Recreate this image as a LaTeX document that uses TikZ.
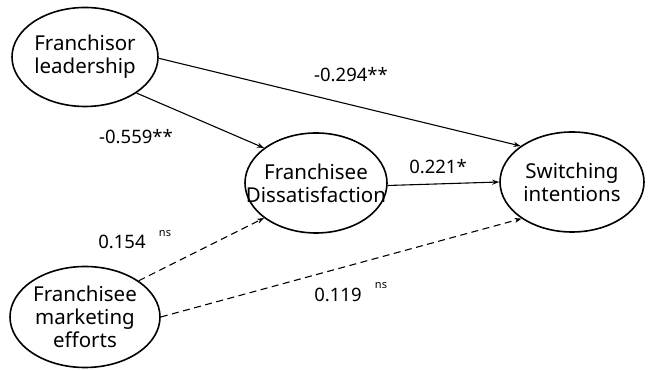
\documentclass[tikz,border=0pt]{standalone}
\usepackage{fontspec}
\setmainfont{Noto Sans}
\usetikzlibrary{shapes.geometric,arrows.meta}
\begin{document}
\begin{tikzpicture}[x=1pt,y=1pt,
  latent/.style={ellipse,draw,line width=1.6pt,inner xsep=-30pt,inner ysep=-20pt,align=center,
    font=\fontsize{20.5}{23}\selectfont},
  path/.style={line width=1.1pt,-{Stealth[length=7pt,width=5pt]}},
  nspath/.style={path,dash pattern=on 7pt off 4.5pt},
  coef/.style={font=\fontsize{18.5}{22}\selectfont,inner sep=0pt},
  sup/.style={font=\fontsize{11}{13}\selectfont,inner sep=0pt}]
\useasboundingbox (0,0) rectangle (650,371);
\node[latent,minimum width=146pt,minimum height=99pt] (fl) at (85,314) {Franchisor\\leadership};
\node[latent,minimum width=142pt,minimum height=100pt] (fd) at (316,188) {Franchisee\\Dissatisfaction};
\node[latent,minimum width=144pt,minimum height=100pt] (si) at (572,189) {Switching\\intentions};
\node[latent,minimum width=150pt,minimum height=101pt] (fme) at (85,54) {Franchisee\\marketing\\efforts};
\draw[path] (fl.-35) -- (fd.146);
\draw[path] (fl.-1) -- (si.145);
\draw[path] (fd.-2) -- (si.180);
\draw[nspath] (fme.34) -- (fd.214);
\draw[nspath] (fme.0) -- (si.216);
\node[coef] (c1) at (351,296) {-0.294**};
\node[coef] (c2) at (136,234) {-0.559**};
\node[coef] (c3) at (438,204) {0.221*};
\node[coef] (c4) at (122,129) {0.154};
\node[sup] (n4) at (165,137) {ns};
\node[coef] (c5) at (338,76) {0.119};
\node[sup] (n5) at (381,85) {ns};
\end{tikzpicture}
\end{document}
